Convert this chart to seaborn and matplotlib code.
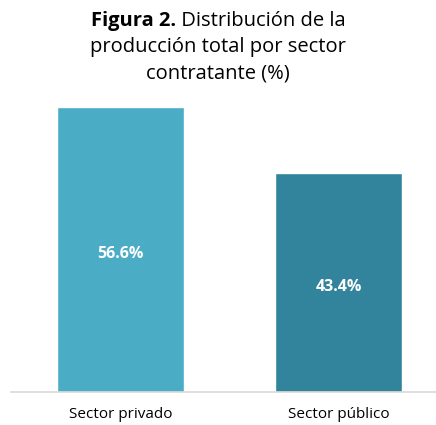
import matplotlib
matplotlib.use("Agg")
import matplotlib.pyplot as plt
import seaborn as sns
import pandas as pd

categories = ["Sector privado", "Sector público"]
values = [56.6, 43.4]
colors = ["#4BACC6", "#31849B"]

sns.set_theme(style="white")
plt.rcParams["font.family"] = ["Open Sans", "DejaVu Sans"]
plt.rcParams["text.color"] = "black"

df = pd.DataFrame({"sector": categories, "pct": values})

fig = plt.figure(figsize=(4.36, 4.25), dpi=100)
ax = fig.add_axes([11 / 436, 1 - 392 / 425, 425 / 436, 285 / 425])

sns.barplot(data=df, x="sector", y="pct", hue="sector", palette=colors,
            width=0.58, legend=False, ax=ax, saturation=1)

for i, v in enumerate(values):
    ax.annotate(f"{v:.1f}%", (i, v / 2), xytext=(0, -3), textcoords="offset points",
                ha="center", va="center", color="white", fontsize=11.5,
                fontweight="bold")

ax.set_ylim(0, 56.6)
ax.set_xlim(-0.5, 1.5 - 12 / 218.5)
ax.set_yticks([])
ax.set_xlabel("")
ax.set_ylabel("")
for s in ["top", "left", "right"]:
    ax.spines[s].set_visible(False)
ax.spines["bottom"].set_color("#d9d9d9")
ax.spines["bottom"].set_linewidth(1.2)
ax.tick_params(axis="x", length=0, pad=11, labelsize=11, colors="black")

# title, first line mixed bold/regular
fig.canvas.draw()
r = fig.canvas.get_renderer()
t1 = fig.text(0, 1 - 21 / 425, "Figura 2.", fontsize=14.5, fontweight="bold",
              va="center", ha="left")
t2 = fig.text(0, 1 - 21 / 425, " Distribución de la", fontsize=14.5,
              va="center", ha="left")
w1 = t1.get_window_extent(r).width
w2 = t2.get_window_extent(r).width
x0 = (436 - (w1 + w2)) / 2
t1.set_x(x0 / 436)
t2.set_x((x0 + w1) / 436)
fig.text(0.5, 1 - 47 / 425, "producción total por sector", fontsize=14.5,
         ha="center", va="center")
fig.text(0.5, 1 - 73 / 425, "contratante (%)", fontsize=14.5,
         ha="center", va="center")

fig.savefig("out.png", dpi=100)
